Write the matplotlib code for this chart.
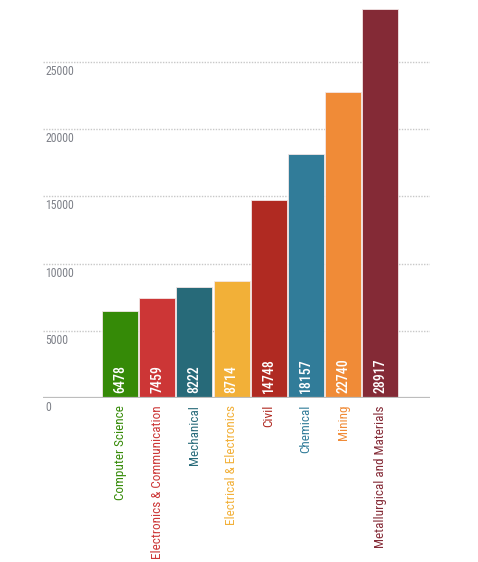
import matplotlib
matplotlib.use("Agg")
import matplotlib.pyplot as plt

# branch-wise values
branches = ["Computer Science", "Electronics & Communication", "Mechanical",
            "Electrical & Electronics", "Civil", "Chemical", "Mining",
            "Metallurgical and Materials"]
values = [6478, 7459, 8222, 8714, 14748, 18157, 22740, 28917]
colors = ["#358a07", "#cc3636", "#276a79", "#f2b038", "#b02a22",
          "#317c99", "#f08b37", "#842a36"]
yticks = [0, 5000, 10000, 15000, 20000, 25000]

plt.rcParams["font.family"] = ["Roboto Condensed", "DejaVu Sans"]

W, H = 478, 562
fig = plt.figure(figsize=(W / 100, H / 100), dpi=100)
# axes box in pixels: left 43, right 430, baseline 398, top 0
ax = fig.add_axes([43 / W, (H - 398) / H, (430 - 43) / W, 398 / H])

px_per_unit = 67.2 / 5000
ax.set_ylim(0, 398 / px_per_unit)
step = 37.2
ax.set_xlim((43 - 120) / step, (430 - 120) / step)

x = list(range(len(values)))
ax.bar(x, values, width=0.97, color=colors, edgecolor="#f3e6e6", linewidth=0.6, zorder=3)

for t in yticks[1:]:
    ax.axhline(t, color="#c8c8c8", linestyle=(0, (1, 1)), linewidth=1, zorder=1)
ax.axhline(0, color="#bdbdbd", linewidth=1.6, zorder=4)

for t in yticks:
    ax.annotate(str(t), xy=(0, t), xycoords=("axes fraction", "data"),
                xytext=(2, -3), textcoords="offset pixels", ha="left", va="top",
                fontsize=8.5, color="#7d8088")

for i, v in enumerate(values):
    ax.annotate(str(v), xy=(i, 0), xytext=(0, 5), textcoords="offset pixels",
                rotation=90, ha="center", va="bottom", fontsize=10,
                color="white", fontweight="medium", zorder=5)
    ax.annotate(branches[i], xy=(i, 0), xytext=(0, -7), textcoords="offset pixels",
                rotation=90, ha="center", va="top", fontsize=9.5, color=colors[i])

ax.set_xticks([])
ax.set_yticks([])
for s in ax.spines.values():
    s.set_visible(False)

fig.savefig("out.png", dpi=100)
